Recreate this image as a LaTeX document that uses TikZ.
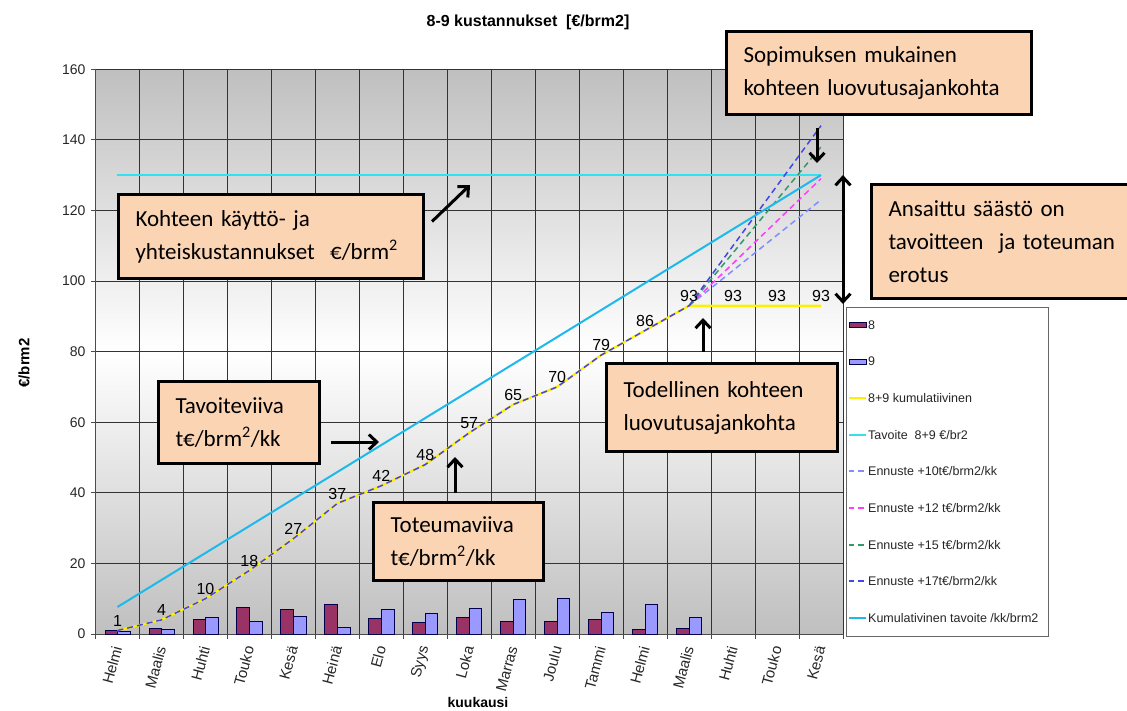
\documentclass[tikz,border=0pt]{standalone}
\usepackage{fontspec}
\setmainfont{Liberation Sans}
\newfontfamily\callfont{Carlito}
\usetikzlibrary{arrows.meta}
\definecolor{BarEight}{RGB}{153,51,102}
\definecolor{BarNine}{RGB}{153,153,255}
\definecolor{CumYellow}{RGB}{255,240,0}
\definecolor{GoalCyan}{RGB}{50,225,240}
\definecolor{CumGoal}{RGB}{30,185,235}
\definecolor{FcTen}{RGB}{130,140,255}
\definecolor{FcTwelve}{RGB}{255,60,255}
\definecolor{FcFifteen}{RGB}{51,153,102}
\definecolor{FcSeventeen}{RGB}{70,70,230}
\definecolor{PeachBg}{RGB}{251,212,180}

\begin{document}
\begin{tikzpicture}[x=1pt, y=-1pt,
    callout/.style={draw=black, line width=3pt, fill=PeachBg, anchor=north west, align=left, inner xsep=17pt, inner ysep=4pt, font=\callfont\fontsize{23}{33}\selectfont},
    callarr/.style={-{Straight Barb[length=8pt,width=15pt]}, line width=3pt},
    savearr/.style={{Straight Barb[length=8pt,width=15pt]}-{Straight Barb[length=8pt,width=15pt]}, line width=3pt},
    gridline/.style={black!80, line width=0.8pt},
    tickline/.style={black!70, line width=0.8pt},
    ticklbl/.style={font=\fontsize{14}{15}\selectfont, text=black!85, anchor=east, inner sep=1pt},
    monthlbl/.style={font=\fontsize{15}{16}\selectfont, text=black!85, anchor=east, rotate=75, inner sep=1pt},
    datalbl/.style={font=\fontsize{16}{17}\selectfont, anchor=south, inner sep=1pt, yshift=3pt},
    legtxt/.style={font=\fontsize{12.5}{13}\selectfont, text=black!85, anchor=west, inner sep=0pt},
    bareight/.style={fill=BarEight, draw=black!70!blue, line width=0.7pt},
    barnine/.style={fill=BarNine, draw=black!70!blue, line width=0.7pt},
    cumline/.style={CumYellow, line width=2.2pt},
    goalline/.style={GoalCyan, line width=2pt},
    cumgoal/.style={CumGoal, line width=2pt},
    fcline/.style={dash pattern=on 6pt off 4pt, line width=1.5pt},
    fcten/.style={fcline, FcTen},
    fctwelve/.style={fcline, FcTwelve},
    fcfifteen/.style={fcline, FcFifteen},
    fcseventeen/.style={fcline, FcSeventeen}]

  \useasboundingbox (0,0) rectangle (1127,711);

  % chart in data units: one category = one x unit, y in euro
  \begin{scope}[shift={(95.5,634)}, x=43.97pt, y=3.53pt]
    \shade[top color=gray!50, bottom color=gray!50, middle color=white] (0,0) rectangle (17,160);
    \foreach \v in {20,40,...,160}
      \draw[gridline] (0,\v) -- (17,\v);
    \foreach \k in {1,...,17}
      \draw[gridline] (\k,0) -- (\k,160);
    \draw[tickline] (0,0) -- (0,160);
    \draw[tickline] (0,0) -- (17,0);
    \foreach \v in {0,20,...,160} {
      \draw[tickline] (0,\v) -- ++(-5pt,0);
      \node[ticklbl] (y\v) at (-0.2,\v) {\v};
    }
    \foreach \k in {0,...,17}
      \draw[tickline] (\k,0) -- ++(0,-5pt);
    \foreach \m [count=\i from 0] in {Helmi,Maalis,Huhti,Touko,Kesä,Heinä,Elo,Syys,Loka,Marras,Joulu,Tammi,Helmi,Maalis,Huhti,Touko,Kesä}
      \node[monthlbl] (m\i) at (\i+0.5,-3.2) {\m};

    % bars 8 and 9
    \foreach \a/\b [count=\i from 0] in {0.95/0.7,1.6/1.4,4.1/4.7,7.6/3.5,7.1/4.9,8.5/1.8,4.3/7.1,3.3/5.8,4.7/7.4,3.5/9.8,3.5/10.1,4.1/6.2,1.3/8.5,1.6/4.8} {
      \draw[bareight] (\i+0.2143,0) rectangle (\i+0.5,\a);
      \draw[barnine] (\i+0.5,0) rectangle (\i+0.7857,\b);
    }

    % lines
    \draw[cumline] plot coordinates {(0.5,1) (1.5,4) (2.5,10) (3.5,18) (4.5,27) (5.5,37) (6.5,42) (7.5,48) (8.5,57) (9.5,65) (10.5,70) (11.5,79) (12.5,86) (13.5,93) (14.5,93) (15.5,93) (16.5,93)};
    \draw[goalline] (0.5,130) -- (16.5,130);
    \foreach \s/\sty in {10/fcten,12/fctwelve,15/fcfifteen,17/fcseventeen}
      \draw[\sty] (13.5,93) -- (16.5,{93+3*\s});
    \draw[fcseventeen] plot coordinates {(0.5,1) (1.5,4) (2.5,10) (3.5,18) (4.5,27) (5.5,37) (6.5,42) (7.5,48) (8.5,57) (9.5,65) (10.5,70) (11.5,79) (12.5,86) (13.5,93)};
    \draw[cumgoal] (0.5,7.65) -- (16.5,130);

    \foreach \v [count=\i from 0] in {1,4,10,18,27,37,42,48,57,65,70,79,86,93,93,93,93}
      \node[datalbl] (d\i) at (\i+0.5,\v) {\v};

    \coordinate (gapTop) at (17,130);
    \coordinate (gapBot) at (17,93.5);
  \end{scope}

  \node[font=\bfseries\fontsize{16}{18}\selectfont] (title) at (528,22) {8-9 kustannukset\ \ [€/brm2]};
  \node[rotate=90, font=\bfseries\fontsize{15}{16}\selectfont] (ytitle) at (24,363) {€/brm2};
  \node[font=\bfseries\fontsize{14}{16}\selectfont] (xtitle) at (478,702) {kuukausi};

  % legend
  \node[draw=black!60, line width=0.8pt, fill=white, minimum width=202pt, minimum height=329pt, anchor=north west, inner sep=0pt] (legend) at (846,307) {};
  \draw[bareight] (849,322.5) rectangle (866,327.5);
  \node[legtxt] (leg0) at (868,325) {8};
  \draw[barnine] (849,359.1) rectangle (866,364.1);
  \node[legtxt] (leg1) at (868,361.6) {9};
  \foreach \sty/\txt [count=\k from 2] in {cumline/{8+9 kumulatiivinen}, goalline/{Tavoite\ \ 8+9 €/br2}, fcten/{Ennuste +10t€/brm2/kk}, fctwelve/{Ennuste +12 t€/brm2/kk}, fcfifteen/{Ennuste +15 t€/brm2/kk}, fcseventeen/{Ennuste +17t€/brm2/kk}, cumgoal/{Kumulativinen tavoite /kk/brm2}} {
    \draw[\sty, line width=2pt, dash phase=1pt] (849,{325+36.6*\k}) -- (866,{325+36.6*\k});
    \node[legtxt] (leg\k) at (868,{325+36.6*\k}) {\txt};
  }

  % callouts
  \node[callout, minimum width=305pt, minimum height=83pt, text width=271pt] (sopim) at (725,30) {Sopimuksen mukainen\\kohteen luovutusajankohta};
  \node[callout, minimum width=305pt, minimum height=84pt, text width=271pt] (kohde) at (117,193) {Kohteen käyttö- ja\\yhteiskustannukset \ €/brm\textsuperscript{2}};
  \node[callout, minimum width=270pt, minimum height=114pt, text width=236pt] (saasto) at (870,183) {Ansaittu säästö on\\tavoitteen\ \ ja toteuman\\erotus};
  \node[callout, minimum width=161pt, minimum height=82pt, text width=127pt] (tavoite) at (157,380) {Tavoiteviiva\\t€/brm\textsuperscript{2}/kk};
  \node[callout, minimum width=170pt, minimum height=78pt, text width=136pt] (toteuma) at (372,501) {Toteumaviiva\\t€/brm\textsuperscript{2}/kk};
  \node[callout, minimum width=231pt, minimum height=88pt, text width=197pt] (todell) at (605,362) {Todellinen kohteen\\luovutusajankohta};

  \coordinate (sopAim) at (817,163);
  \coordinate (kohAim) at (470,185);
  \coordinate (tavAim) at (379,442);
  \coordinate (totAim) at (455,457);
  \coordinate (todAim) at (703,318);
  \draw[callarr, shorten <=12pt] (sopim.south -| sopAim) -- (sopAim);
  \draw[callarr] ([shift={(7,-15)}]kohde.east) -- (kohAim);
  \draw[callarr, shorten <=10pt] (tavoite.east |- tavAim) -- (tavAim);
  \draw[callarr, shorten <=8pt] (toteuma.north -| totAim) -- (totAim);
  \draw[callarr, shorten <=10pt] (todell.north -| todAim) -- (todAim);
  \draw[savearr] (gapTop) -- (gapBot);
\end{tikzpicture}
\end{document}
